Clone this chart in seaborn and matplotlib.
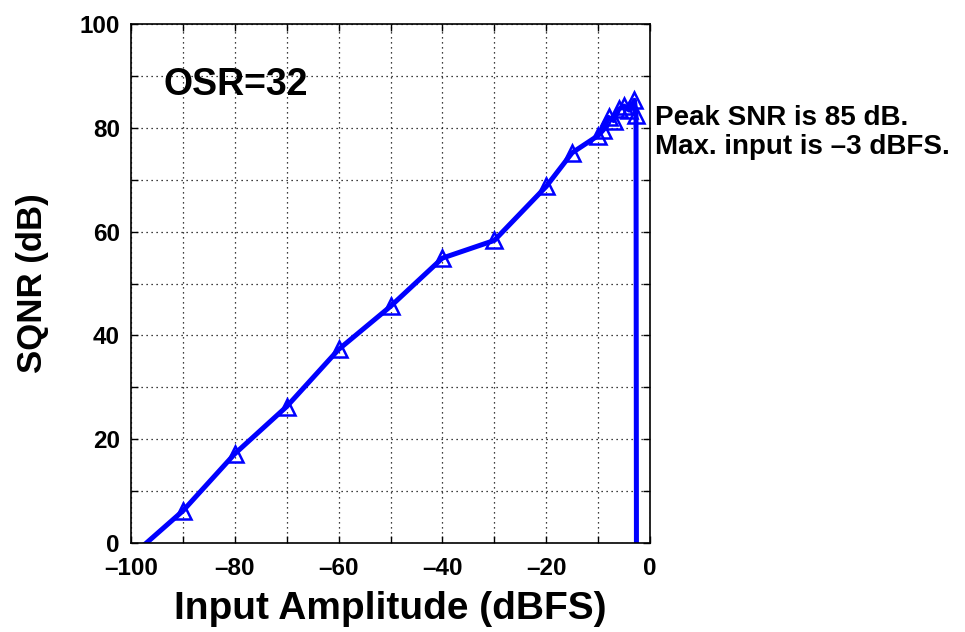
import matplotlib
matplotlib.use("Agg")
import matplotlib.pyplot as plt
import seaborn as sns
import numpy as np
from matplotlib.ticker import MultipleLocator, FuncFormatter

# SQNR vs input amplitude
input_dbfs = [-100, -90, -80, -70, -60, -50, -40, -30, -20, -15, -10, -9, -8, -7, -6,
              -5, -4, -3, -2.7, -2.6]
sqnr_db = [-2.6, 6.2, 17.2, 26.3, 37.3, 45.6, 54.9, 58.3, 68.7, 75.2, 78.5, 79.6, 82.0,
           81.4, 83.6, 84.2, 83.4, 85.3, 82.5, -20]

osr_label = "OSR=32"
note_lines = ["Peak SNR is 85 dB.", "Max. input is \u20133 dBFS."]

sns.set_theme(style="white")
plt.rcParams['font.family'] = ['Liberation Sans', 'DejaVu Sans']
plt.rcParams['font.weight'] = 'bold'
plt.rcParams['text.color'] = 'black'
plt.rcParams['axes.labelcolor'] = 'black'
plt.rcParams['xtick.color'] = 'black'
plt.rcParams['ytick.color'] = 'black'

fig = plt.figure(figsize=(9.65, 6.32), dpi=100)
ax = fig.add_axes([0.1358, 0.1408, 0.5378, 0.8212])

sns.lineplot(x=input_dbfs, y=sqnr_db, sort=False, estimator=None, ax=ax,
             color=(0, 0, 1), linewidth=3.6, marker='^', markersize=11,
             markerfacecolor='none', markeredgecolor=(0, 0, 1), markeredgewidth=1.8)

ax.set_xlim(-100, 0)
ax.set_ylim(0, 100)
ax.xaxis.set_major_locator(MultipleLocator(20))
ax.xaxis.set_minor_locator(MultipleLocator(10))
ax.yaxis.set_major_locator(MultipleLocator(20))
ax.yaxis.set_minor_locator(MultipleLocator(10))

dash = FuncFormatter(lambda v, p: ("\u2013%d" % abs(v)) if v < 0 else "%d" % v)
ax.xaxis.set_major_formatter(dash)

ax.grid(True, which='both', color='black', linestyle=(0, (1, 3)), linewidth=0.9)
ax.tick_params(which='both', direction='in', top=True, right=True, bottom=True, left=True,
               length=5, width=1, color='black', labelsize=17.5)
ax.tick_params(axis='x', pad=10)
ax.tick_params(axis='y', pad=8)
for lab in ax.get_xticklabels() + ax.get_yticklabels():
    lab.set_fontweight('bold')
for s in ax.spines.values():
    s.set_color('black')
    s.set_linewidth(1.2)

ax.set_xlabel("Input Amplitude (dBFS)", fontsize=28, fontweight='bold', labelpad=8)
ax.set_ylabel("SQNR (dB)", fontsize=25, fontweight='bold', labelpad=22)

ax.text(-93.8, 88.2, osr_label, fontsize=27, fontweight='bold', ha='left', va='center')
fig.text(0.679, 0.814, note_lines[0], fontsize=20, fontweight='bold', ha='left', va='center')
fig.text(0.679, 0.768, note_lines[1], fontsize=20, fontweight='bold', ha='left', va='center')

fig.savefig("out.png", dpi=100)
